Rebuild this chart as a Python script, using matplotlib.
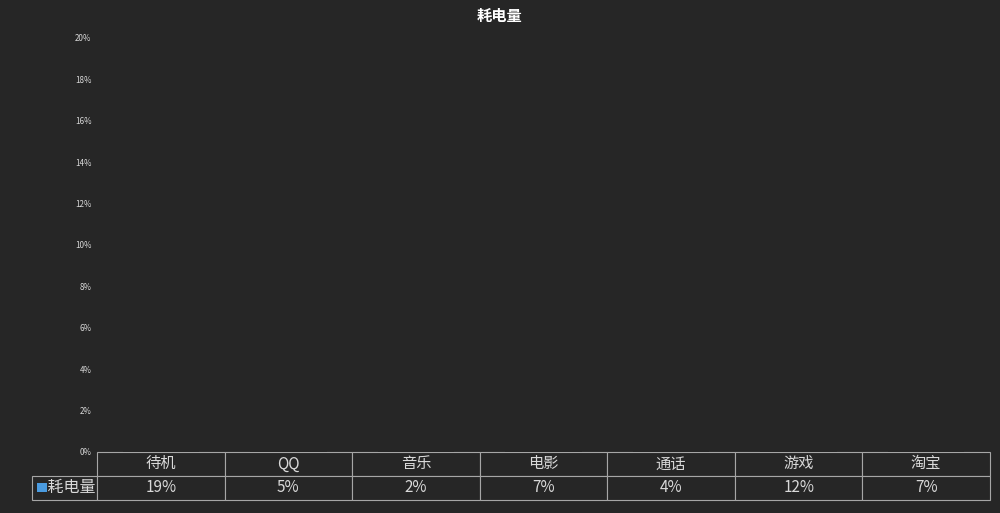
import matplotlib.pyplot as plt
from matplotlib.patches import Rectangle
from matplotlib.ticker import PercentFormatter

plt.rcParams['font.family'] = ['Noto Sans CJK SC', 'DejaVu Sans']

categories = ["待机", "QQ", "音乐", "电影", "通话", "游戏", "淘宝"]
values = [0.19, 0.05, 0.02, 0.07, 0.04, 0.12, 0.07]
series_name = "耗电量"
yticks = [0, 0.02, 0.04, 0.06, 0.08, 0.10, 0.12, 0.14, 0.16, 0.18, 0.20]

bg = "#262626"
fg = "#d9d9d9"
edge = "#a6a6a6"

fig = plt.figure(figsize=(10, 5.13), dpi=100, facecolor=bg)
ax = fig.add_axes([0.097, 0.119, 0.893, 0.807], facecolor=bg)

# bars are not visible in the original (filled like the background)
x = list(range(len(categories)))
ax.bar(x, values, width=0.6, color=bg, edgecolor="none")

ax.set_xlim(-0.5, len(categories) - 0.5)
ax.set_ylim(0, 0.20)
ax.set_yticks(yticks)
ax.yaxis.set_major_formatter(PercentFormatter(1.0, decimals=0))
ax.tick_params(axis="y", length=0, labelsize=5.8, labelcolor=fg, pad=4)
ax.set_xticks([])
for s in ax.spines.values():
    s.set_visible(False)

fig.text(0.5, 0.968, series_name, ha="center", va="center", fontsize=11,
         fontweight="bold", color="white")

# data table below the plot area, first column holds the series label
ax_w_px = 893
ax_h_px = 414
lab_w = 65
col_w = 893 / len(categories)
tot_w = lab_w + ax_w_px
cell_text = [["    " + series_name] + ["{:.0%}".format(v) for v in values]]
tbl = ax.table(cellText=cell_text, colLabels=[""] + categories,
               colWidths=[lab_w / tot_w] + [col_w / tot_w] * len(categories),
               cellLoc="center",
               bbox=[-lab_w / ax_w_px, -48 / ax_h_px, tot_w / ax_w_px, 48 / ax_h_px])
tbl.auto_set_font_size(False)
tbl.set_fontsize(11)
for (r, c), cell in tbl.get_celld().items():
    cell.set_facecolor(bg)
    cell.set_edgecolor(edge)
    cell.set_linewidth(0.8)
    cell.get_text().set_color(fg)
    cell.PAD = 0.02
    if r == 0 and c == 0:
        cell.visible_edges = ""
        cell.set_facecolor("none")
tbl[1, 0].get_text().set_ha("left")
tbl[1, 0].get_text().set_fontsize(11.5)

# legend key in the row label cell
fig.patches.append(Rectangle((0.037, 1 - 492 / 513), 0.0095, 9 / 513,
                             transform=fig.transFigure, facecolor="#4a9be0",
                             edgecolor="none"))

fig.savefig("out.png", dpi=100, facecolor=bg)
